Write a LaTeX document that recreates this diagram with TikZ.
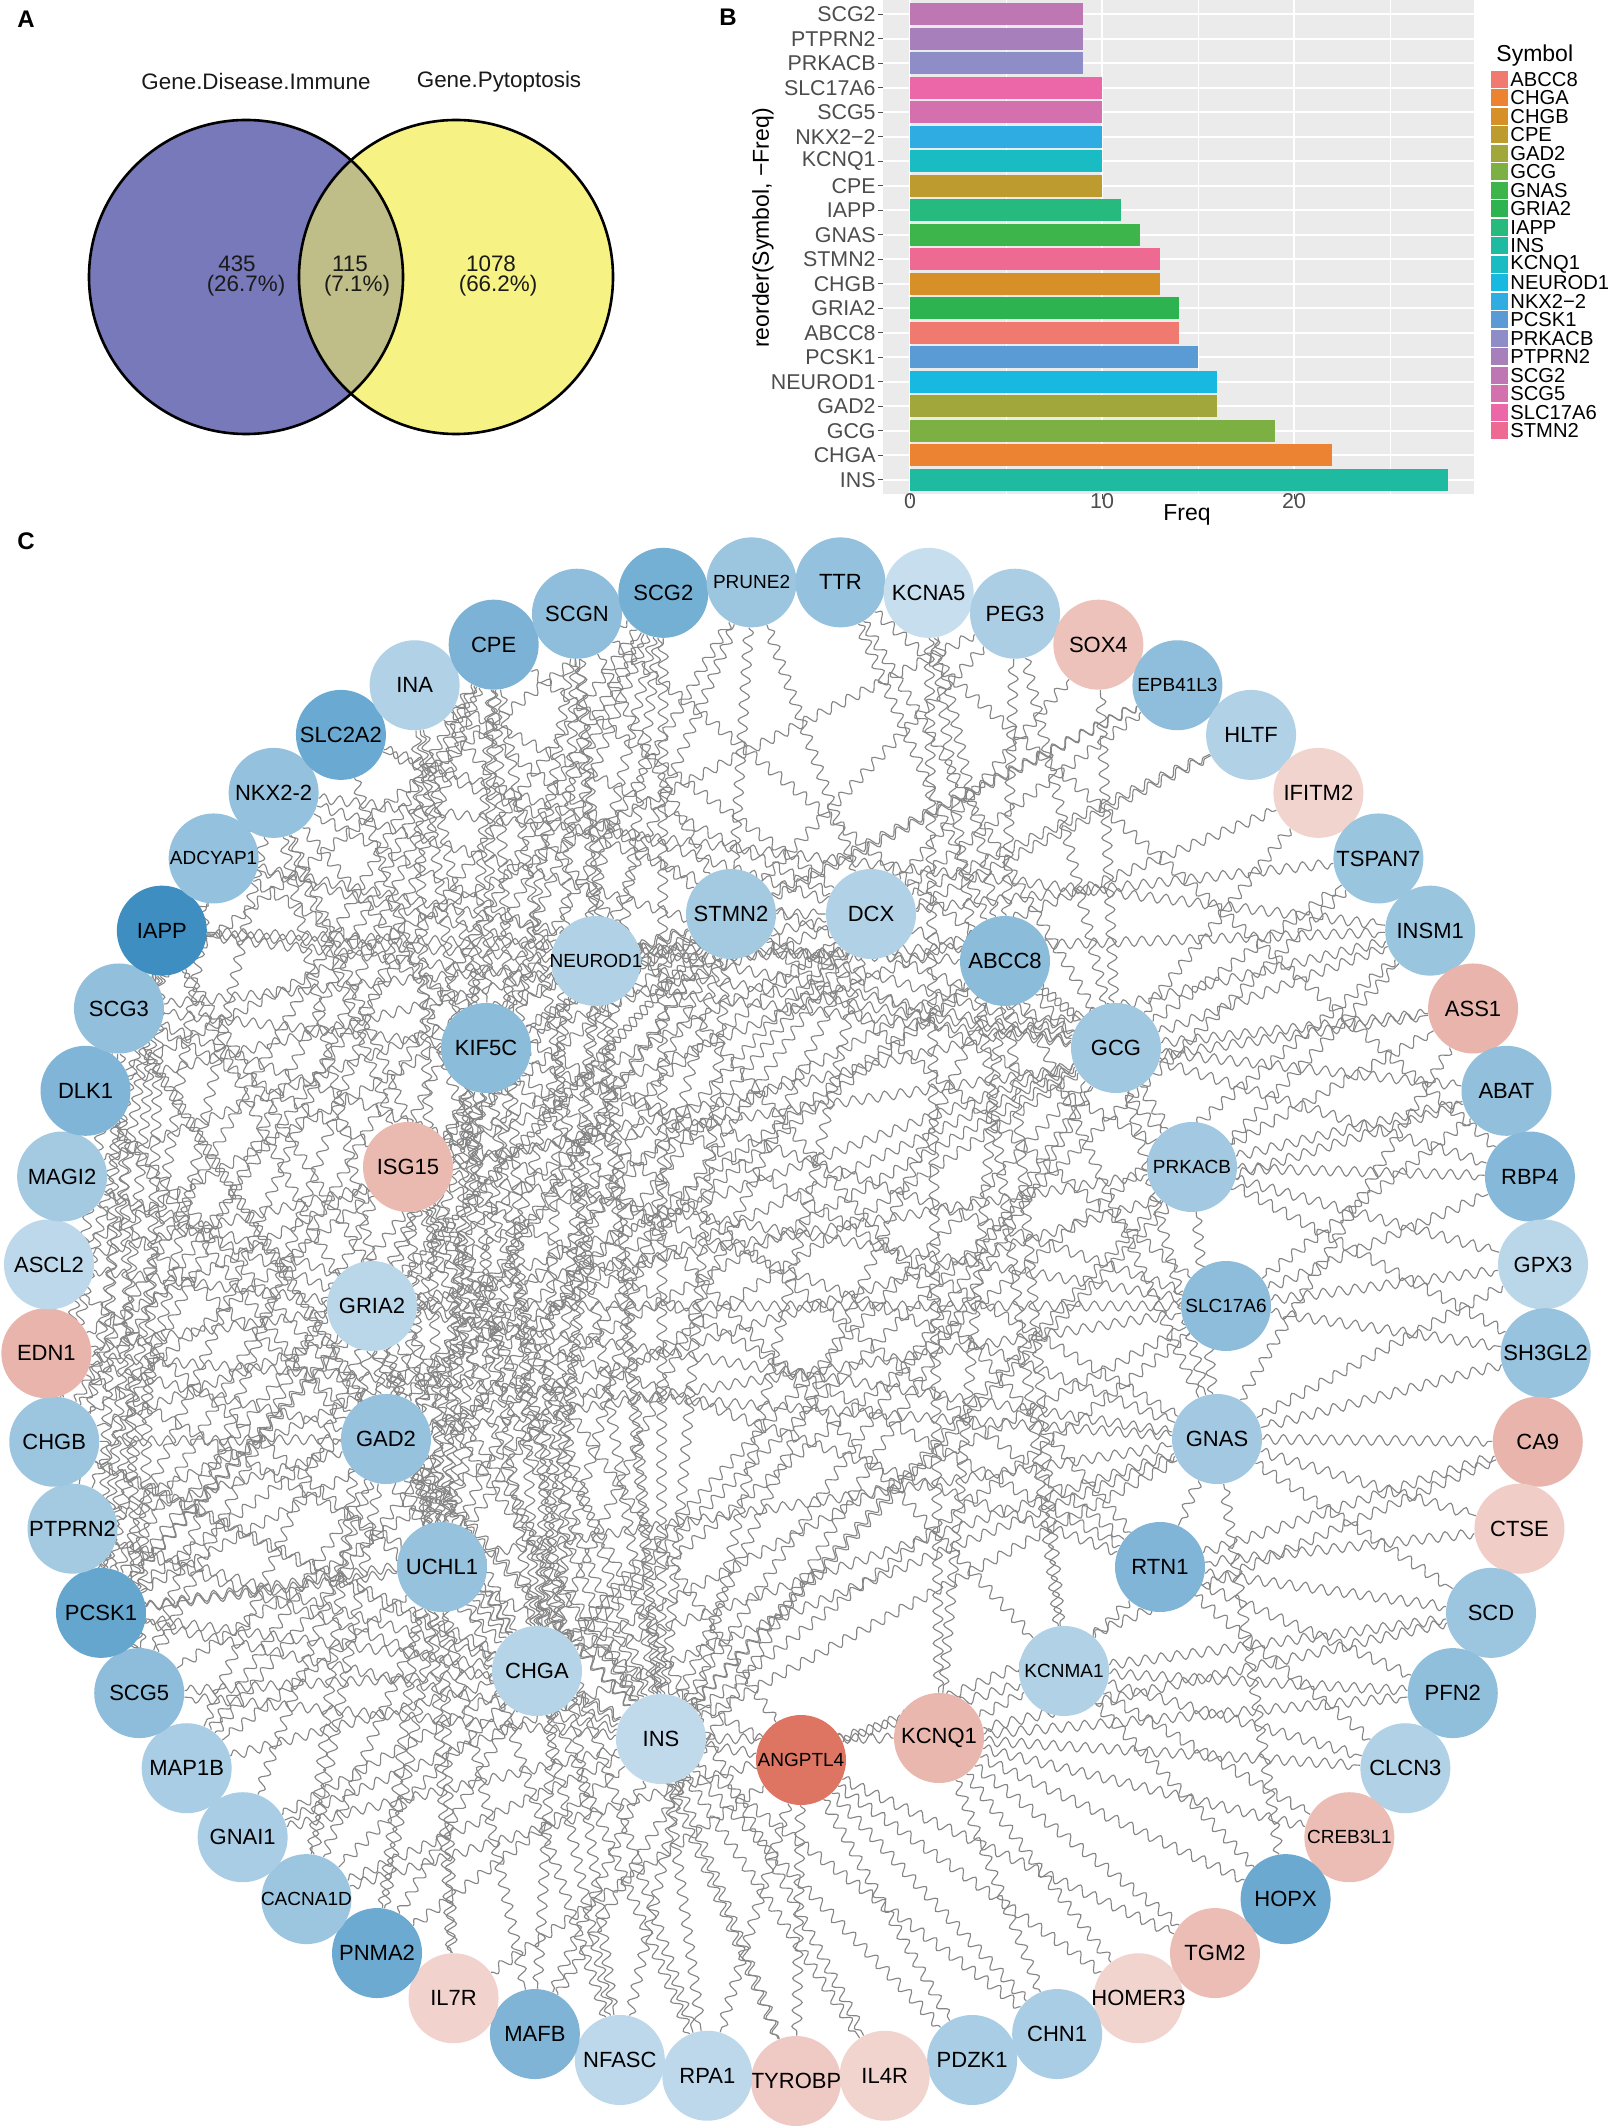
\documentclass[tikz,border=0pt]{standalone}
\usepackage{fontspec}
\setmainfont{Liberation Sans}
\usetikzlibrary{decorations.pathmorphing}
\pgfdeclarelayer{bg}
\pgfdeclarelayer{paper}
\pgfsetlayers{paper,bg,main}
\definecolor{edgegray}{HTML}{858585}
\definecolor{panelgray}{HTML}{EBEBEB}
\definecolor{axisgray}{HTML}{4D4D4D}
\definecolor{vennA}{HTML}{7779BA}
\definecolor{vennB}{HTML}{F6F283}
\definecolor{vennAB}{HTML}{BFBD88}
\definecolor{txtdark}{HTML}{1A1A1A}
\tikzset{
  gnode/.style={circle, minimum size=45pt, inner sep=0pt, text=black},
  wavy/.style={draw=edgegray, line width=0.55pt, decorate, decoration={snake, amplitude=2.5pt, segment length=8pt}},
  panellbl/.style={font=\fontsize{12}{14}\selectfont\bfseries, inner sep=0pt},
  venntxt/.style={font=\fontsize{11.2}{13}\selectfont, text=txtdark, inner sep=0pt},
  axtxt/.style={font=\fontsize{10.7}{12}\selectfont, text=axisgray, inner sep=0pt},
  axtitle/.style={font=\fontsize{11.5}{13}\selectfont, text=black, inner sep=0pt},
  legtxt/.style={font=\fontsize{10.1}{12}\selectfont, text=black, inner sep=0pt, anchor=west},
}
\begin{document}
\begin{tikzpicture}[x=0.5pt,y=-0.5pt]
\useasboundingbox (0,0) rectangle (1616,2128);
\begin{pgfonlayer}{paper}
\fill[white] (0,0) rectangle (1616,2128);
\end{pgfonlayer}

% ---------------- Panel A: Venn ----------------
\node[panellbl] (labA) at (26,19) {A};
\fill[vennA] (246,277) circle[radius=78.5pt];
\fill[vennB] (456,277) circle[radius=78.5pt];
\begin{scope}
  \clip (246,277) circle[radius=78.5pt];
  \fill[vennAB] (456,277) circle[radius=78.5pt];
\end{scope}
\draw[line width=1.3pt] (246,277) circle[radius=78.5pt];
\draw[line width=1.3pt] (456,277) circle[radius=78.5pt];
\node[venntxt] (vtA) at (256,82) {Gene.Disease.Immune};
\node[venntxt] (vtB) at (499,82) {Gene.Pytoptosis};
\node[venntxt] (vnA) at (237,264) {435};
\node[venntxt] (vpA) at (246,286) {(26.7\%)};
\node[venntxt] (vnAB) at (350,264) {115};
\node[venntxt] (vpAB) at (357,286) {(7.1\%)};
\node[venntxt] (vnB) at (491,264) {1078};
\node[venntxt] (vpB) at (498,286) {(66.2\%)};

% ---------------- Panel B: bar chart ----------------
\node[panellbl] (labB) at (728,17) {B};
\fill[panelgray] (883,0) rectangle (1474,494.5);
\foreach \gx in {1006,1198,1390} \draw[white, line width=0.4pt] (\gx,0) -- (\gx,494.5);
\foreach \gx in {910,1102,1294} \draw[white, line width=0.9pt] (\gx,0) -- (\gx,494.5);
\foreach \i in {0,...,19} \draw[white, line width=0.9pt] (883,{14.4+24.5*\i}) -- (1474,{14.4+24.5*\i});
\foreach \i/\nm/\v/\col in {0/SCG2/9/BE77B2, 1/PTPRN2/9/A67FBB, 2/PRKACB/9/8E8DC8, 3/SLC17A6/10/EC67A7,
  4/SCG5/10/D570AE, 5/NKX2−2/10/2FADE2, 6/KCNQ1/10/1ABCC3, 7/CPE/10/BE9B2F, 8/IAPP/11/27BA7E,
  9/GNAS/12/3DB54B, 10/STMN2/13/EE6A92, 11/CHGB/13/D78F27, 12/GRIA2/14/2DB34F, 13/ABCC8/14/F07A70,
  14/PCSK1/15/5A9BD6, 15/NEUROD1/16/17B9E0, 16/GAD2/16/A2A73B, 17/GCG/19/7CB042, 18/CHGA/22/EC8333,
  19/INS/28/1EBBA0}{
  \definecolor{barc}{HTML}{\col}
  \fill[barc] (910,{14.4+24.5*\i-11}) rectangle ({910+19.2*\v},{14.4+24.5*\i+11});
  \draw[axisgray, line width=0.5pt] (878,{14.4+24.5*\i}) -- (883,{14.4+24.5*\i});
  \node[axtxt, anchor=east] (ylab\i) at (876,{14.4+24.5*\i}) {\nm};
}
\foreach \gx/\t in {910/0,1102/10,1294/20}{
  \draw[axisgray, line width=0.5pt] (\gx,494.5) -- (\gx,499);
  \node[axtxt] (xlab\t) at (\gx,501) {\t};
}
\node[axtitle] (xtitle) at (1187,515) {Freq};
\node[axtitle, rotate=90] (ytitle) at (763,228) {reorder(Symbol, −Freq)};
\node[axtitle, anchor=west] (legtitle) at (1496,56) {Symbol};
\foreach \j/\nm/\col in {0/ABCC8/F07A70, 1/CHGA/EC8333, 2/CHGB/D78F27, 3/CPE/BE9B2F, 4/GAD2/A2A73B,
  5/GCG/7CB042, 6/GNAS/3DB54B, 7/GRIA2/2DB34F, 8/IAPP/27BA7E, 9/INS/1EBBA0, 10/KCNQ1/1ABCC3,
  11/NEUROD1/17B9E0, 12/NKX2−2/2FADE2, 13/PCSK1/5A9BD6, 14/PRKACB/8E8DC8, 15/PTPRN2/A67FBB,
  16/SCG2/BE77B2, 17/SCG5/D570AE, 18/SLC17A6/EC67A7, 19/STMN2/EE6A92}{
  \definecolor{legc}{HTML}{\col}
  \fill[legc] (1491,{79.4+18.5*\j-8.5}) rectangle (1508,{79.4+18.5*\j+8.5});
  \node[legtxt] (leg\j) at (1510,{79.4+18.5*\j}) {\nm};
}

% ---------------- Panel C: network ----------------
\node[panellbl] (labC) at (26,541) {C};
\foreach \k/\nm/\txt/\col/\fs in {
 0/TYROBP/TYROBP/EFC9C3/11, 1/RPA1/RPA1/BCD8EA/11, 2/NFASC/NFASC/BCD8EA/11, 3/MAFB/MAFB/7FB4D7/11,
 4/IL7R/IL7R/F2D2CD/11, 5/PNMA2/PNMA2/6DAAD2/11, 6/CACNA1D/CACNA1D/9CC6E0/9.5, 7/GNAI1/GNAI1/A8CDE4/11,
 8/MAP1B/MAP1B/A8CDE4/11, 9/SCG5/SCG5/8DBDDB/11, 10/PCSK1/PCSK1/65A6CF/11, 11/PTPRN2/PTPRN2/A4CAE2/11,
 12/CHGB/CHGB/9CC6E0/11, 13/EDN1/EDN1/E8B4AB/11, 14/ASCL2/ASCL2/BCD8EA/11, 15/MAGI2/MAGI2/A4CAE2/11,
 16/DLK1/DLK1/80B5D8/11, 17/SCG3/SCG3/92C0DC/11, 18/IAPP/IAPP/3E8EC1/11, 19/ADCYAP1/ADCYAP1/94C1DD/9.5,
 20/NKX22/NKX2-2/94C1DD/11, 21/SLC2A2/SLC2A2/6AAAD2/11, 22/INA/INA/B0D1E6/11, 23/CPE/CPE/7BB2D6/11,
 24/SCGN/SCGN/8EBEDB/11, 25/SCG2/SCG2/74AFD4/11, 26/PRUNE2/PRUNE2/9CC6E0/9.5, 27/TTR/TTR/94C1DD/11,
 28/KCNA5/KCNA5/C6DEED/11, 29/PEG3/PEG3/ABCEE5/11, 30/SOX4/SOX4/EDC2BB/11, 31/EPB41L3/EPB41L3/8EBEDB/9.5,
 32/HLTF/HLTF/B0D1E6/11, 33/IFITM2/IFITM2/F2D4CF/11, 34/TSPAN7/TSPAN7/9AC5DF/11, 35/INSM1/INSM1/9AC5DF/11,
 36/ASS1/ASS1/E8B4AB/11, 37/ABAT/ABAT/92C0DC/11, 38/RBP4/RBP4/86B9D9/11, 39/GPX3/GPX3/BAD7E9/11,
 40/SH3GL2/SH3GL2/98C3DE/11, 41/CA9/CA9/E8B4AB/11, 42/CTSE/CTSE/F0CDC7/11, 43/SCD/SCD/9CC6E0/11,
 44/PFN2/PFN2/90BFDC/11, 45/CLCN3/CLCN3/B0D1E6/11, 46/CREB3L1/CREB3L1/EBBDB5/9.5, 47/HOPX/HOPX/6CA9D1/11,
 48/TGM2/TGM2/EBBDB5/11, 49/HOMER3/HOMER3/F2D4CF/11, 50/CHN1/CHN1/A8CDE4/11, 51/PDZK1/PDZK1/A8CDE4/11,
 52/IL4R/IL4R/F2D4CF/11}{
  \definecolor{nodec}{HTML}{\col}
  \node[gnode, fill=nodec, font=\fontsize{\fs}{13}\selectfont] (\nm)
    at ({796+750*cos(-90-\k*6.792453)},{1331-750*sin(-90-\k*6.792453)}) {\makebox[0pt]{\txt}};
}
\foreach \nm/\px/\py/\col/\fs in {
 STMN2/731/914/A4CAE2/11, DCX/871/914/B0D1E6/11, NEUROD1/596/961/B0D1E6/9.5, ABCC8/1005/961/8BBCDA/11,
 KIF5C/486/1048/8BBCDA/11, GCG/1116/1048/A0C8E1/11, ISG15/408/1167/EAB9B0/11, PRKACB/1192/1167/A2C9E1/9.5,
 GRIA2/372/1306/BAD7E9/11, SLC17A6/1226/1306/8EBDDB/9.5, GAD2/386/1439/97C2DE/11, GNAS/1217/1439/A2C9E1/11,
 UCHL1/442/1567/97C2DE/11, RTN1/1160/1567/80B5D8/11, CHGA/537/1671/B5D4E7/11, KCNMA1/1064/1671/B0D1E6/9.5,
 INS/661/1739/C0DAEB/11, KCNQ1/939/1738/EAB7AE/11, ANGPTL4/801/1760/DE7563/9.5}{
  \definecolor{nodec}{HTML}{\col}
  \node[gnode, fill=nodec, font=\fontsize{\fs}{13}\selectfont] (\nm) at (\px,\py) {\makebox[0pt]{\nm}};
}

\begin{pgfonlayer}{bg}
\foreach \a/\b in {
INS/CHGA, INS/GCG, INS/GAD2, INS/NEUROD1, INS/ABCC8, INS/GRIA2, INS/STMN2, INS/GNAS, INS/SLC17A6, INS/PRKACB,
INS/KCNQ1, INS/PCSK1, INS/CHGB, INS/IAPP, INS/CPE, INS/NKX22, INS/SCG5, INS/PTPRN2, INS/SCG2, INS/SLC2A2,
INS/DLK1, INS/MAFB, INS/INSM1, INS/ANGPTL4, INS/IL4R, INS/RPA1, INS/TYROBP, INS/PDZK1,
CHGA/GCG, CHGA/GAD2, CHGA/NEUROD1, CHGA/STMN2, CHGA/GNAS, CHGA/SLC17A6, CHGA/PCSK1, CHGA/CHGB, CHGA/IAPP,
CHGA/CPE, CHGA/SCG5, CHGA/PTPRN2, CHGA/SCG2, CHGA/SCG3, CHGA/SCGN, CHGA/INA, CHGA/UCHL1, CHGA/DCX,
CHGA/ASCL2, CHGA/NFASC, CHGA/CACNA1D,
GCG/NEUROD1, GCG/ABCC8, GCG/GNAS, GCG/PRKACB, GCG/PCSK1, GCG/CHGB, GCG/IAPP, GCG/NKX22, GCG/SCG5,
GCG/PTPRN2, GCG/SLC2A2, GCG/INSM1, GCG/TSPAN7, GCG/ASS1, GCG/ABAT, GCG/RBP4, GCG/SOX4,
GAD2/GRIA2, GAD2/STMN2, GAD2/SLC17A6, GAD2/ABCC8, GAD2/KIF5C, GAD2/DCX, GAD2/UCHL1, GAD2/ABAT, GAD2/SCG3,
GAD2/MAGI2, GAD2/EDN1, GAD2/CHGB, GAD2/PTPRN2, GAD2/GNAI1,
NEUROD1/NKX22, NEUROD1/IAPP, NEUROD1/INSM1, NEUROD1/STMN2, NEUROD1/DCX, NEUROD1/PCSK1, NEUROD1/ASCL2,
NEUROD1/DLK1, NEUROD1/MAFB, NEUROD1/SCG3, NEUROD1/ADCYAP1, NEUROD1/PRUNE2, NEUROD1/SCGN,
PCSK1/CHGB, PCSK1/IAPP, PCSK1/CPE, PCSK1/SCG2, PCSK1/SCG3, PCSK1/ABCC8, PCSK1/GNAS, PCSK1/UCHL1,
PCSK1/ADCYAP1, PCSK1/STMN2, PCSK1/GRIA2,
ABCC8/KCNQ1, ABCC8/KCNMA1, ABCC8/SLC2A2, ABCC8/IAPP, ABCC8/GNAS, ABCC8/PRKACB, ABCC8/GRIA2, ABCC8/TTR,
ABCC8/KCNA5, ABCC8/PEG3,
GRIA2/SLC17A6, GRIA2/STMN2, GRIA2/DCX, GRIA2/KIF5C, GRIA2/GNAS, GRIA2/PRKACB, GRIA2/MAGI2, GRIA2/ASCL2,
GRIA2/EDN1, GRIA2/CACNA1D, GRIA2/UCHL1,
CHGB/SCG5, CHGB/SCG2, CHGB/SCG3, CHGB/CPE, CHGB/IAPP, CHGB/STMN2, CHGB/MAP1B,
STMN2/DCX, STMN2/KIF5C, STMN2/UCHL1, STMN2/INA, STMN2/SCGN, STMN2/PEG3, STMN2/SLC17A6,
GNAS/PRKACB, GNAS/CA9, GNAS/CTSE, GNAS/SCD, GNAS/RTN1, GNAS/GNAI1,
IAPP/NKX22, IAPP/SCG5, IAPP/PTPRN2, IAPP/SLC2A2,
CPE/SCG5, CPE/SCG2, CPE/PTPRN2, CPE/UCHL1, CPE/KIF5C, CPE/DCX,
KCNQ1/KCNMA1, KCNQ1/HOPX, KCNQ1/TGM2, KCNQ1/CHN1, KCNQ1/CREB3L1, KCNQ1/CLCN3, KCNQ1/PFN2, KCNQ1/HOMER3,
NKX22/INSM1, NKX22/MAFB, NKX22/PCSK1, NKX22/DLK1, NKX22/ISG15, NKX22/KIF5C,
SCG5/PTPRN2, SCG5/SCG2, SCG5/SCG3,
SLC17A6/GPX3, SLC17A6/SH3GL2, SLC17A6/RBP4, SLC17A6/ISG15, SLC17A6/KIF5C,
PRKACB/ABAT, PRKACB/GPX3, PRKACB/RBP4, PRKACB/ASS1,
SCG2/SCG3, SCG2/UCHL1, SCG2/KIF5C,
KIF5C/DCX, KIF5C/UCHL1, KIF5C/MAP1B, KIF5C/INA, KIF5C/SCG3, KIF5C/KCNMA1, KIF5C/RTN1, KIF5C/NFASC, KIF5C/PNMA2,
DCX/UCHL1, DCX/MAP1B, DCX/INA, DCX/NFASC, DCX/SOX4, DCX/HLTF, DCX/PRUNE2, DCX/EPB41L3, DCX/TSPAN7,
UCHL1/INA, UCHL1/MAP1B, UCHL1/PNMA2, UCHL1/CACNA1D, UCHL1/SCGN,
RTN1/SCD, RTN1/PFN2, RTN1/CLCN3, RTN1/KCNMA1, RTN1/CA9, RTN1/INA, RTN1/SCG3,
KCNMA1/CLCN3, KCNMA1/PFN2, KCNMA1/CACNA1D, KCNMA1/SCD, KCNMA1/CREB3L1, KCNMA1/HOPX,
ISG15/IFITM2, ISG15/EDN1, ISG15/IL7R, ISG15/TYROBP, ISG15/IL4R, ISG15/HLTF, ISG15/ASS1, ISG15/RPA1, ISG15/ANGPTL4,
ANGPTL4/TYROBP, ANGPTL4/RPA1, ANGPTL4/PDZK1, ANGPTL4/CHN1, ANGPTL4/HOMER3, ANGPTL4/TGM2, ANGPTL4/IL7R,
ANGPTL4/EDN1, ANGPTL4/CA9,
TTR/RBP4, TTR/GCG, KCNA5/KCNQ1, KCNA5/KCNMA1, PEG3/GCG, PEG3/DLK1, EPB41L3/KIF5C, EPB41L3/STMN2,
IFITM2/GCG, TSPAN7/CHGA, INSM1/CHGA, ASS1/GNAS, ABAT/SLC17A6, GPX3/GNAS, SH3GL2/GNAS, SH3GL2/STMN2,
CTSE/RTN1, SCD/KCNQ1, HOPX/GNAS, CHN1/INS, RPA1/CHGA, NFASC/GRIA2, MAFB/GCG, IL7R/UCHL1, PNMA2/CHGA,
PNMA2/INS, CACNA1D/INS, CACNA1D/GAD2, GNAI1/CHGA, GNAI1/INS, MAP1B/STMN2, MAP1B/CHGA, EDN1/GNAS,
ASCL2/INSM1, MAGI2/RTN1, MAGI2/STMN2, DLK1/CHGA, SCG3/GNAS, ADCYAP1/GNAS, ADCYAP1/GCG, SCGN/INS,
SCGN/GCG, PRUNE2/STMN2, PRUNE2/KIF5C}{
  \draw[wavy] (\a) -- (\b);
}
\end{pgfonlayer}
\end{tikzpicture}
\end{document}
